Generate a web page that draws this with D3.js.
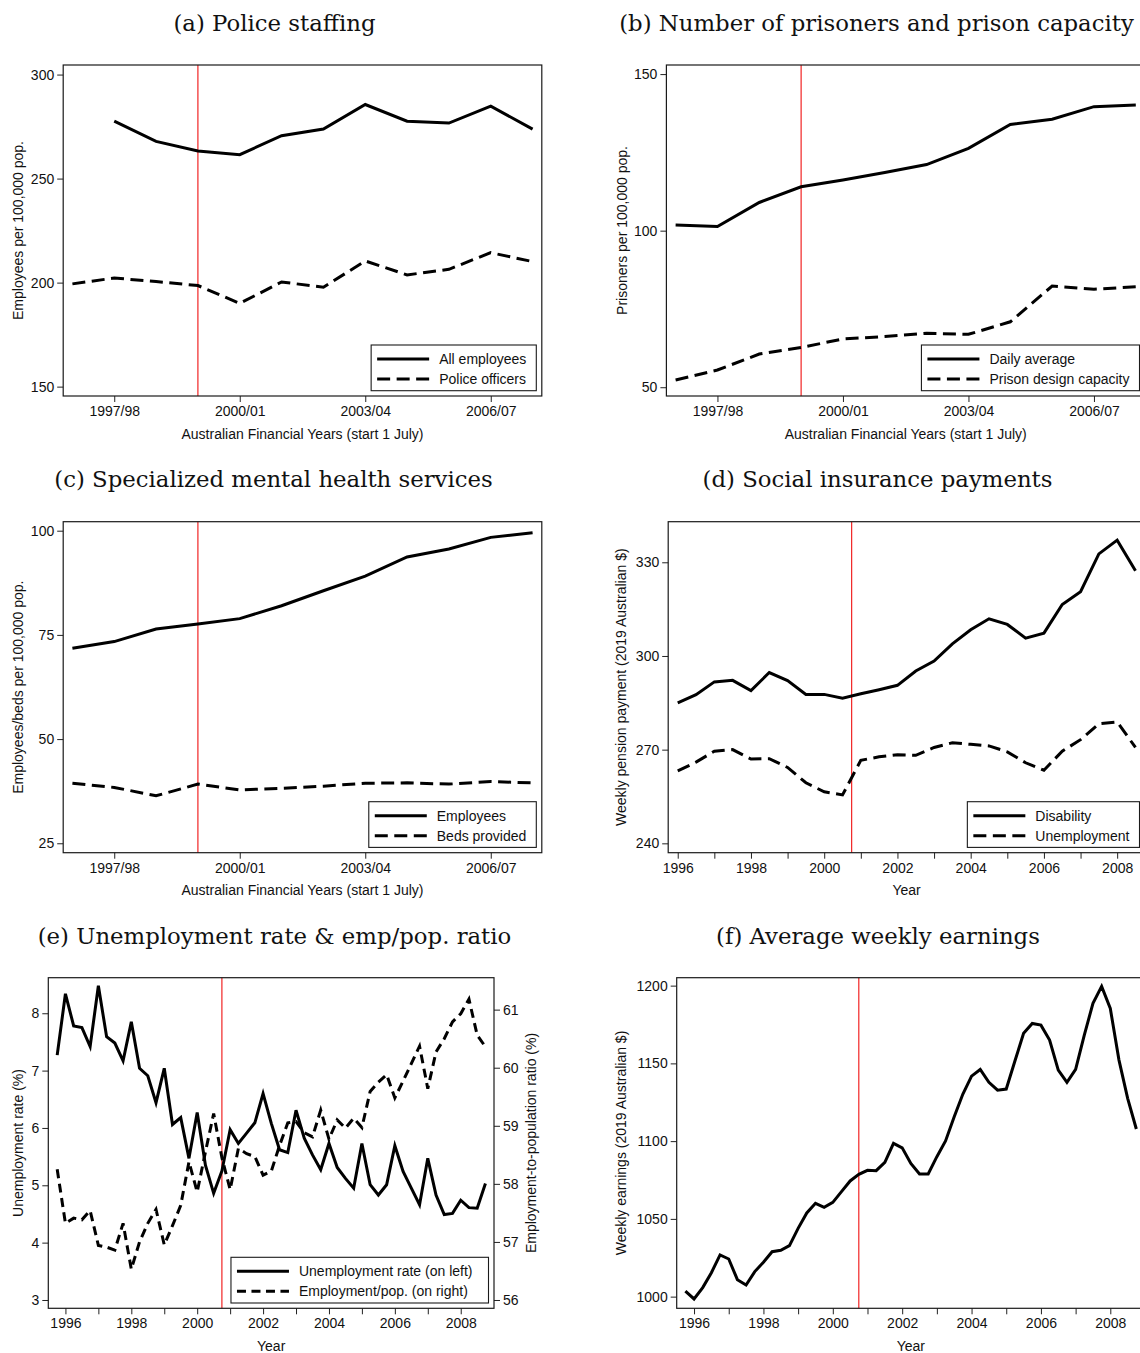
<!DOCTYPE html>
<html>
<head>
<meta charset="utf-8">
<script src="https://cdn.jsdelivr.net/npm/d3@7"></script>
<style>
  body { margin: 0; background: #fff; }
  svg { display: block; }
  .ax text { font-family: "Liberation Sans", Arial, Helvetica, sans-serif; font-size: 14px; fill: #111; }
  .ax line { stroke: #222; stroke-width: 1; }
</style>
</head>
<body>
<svg id="chart" width="1140" height="1353"></svg>
<script>
// ---------- data ----------
// Australian financial years (start 1 July)
const fyLabels = ["1996/97","1997/98","1998/99","1999/00","2000/01","2001/02",
                  "2002/03","2003/04","2004/05","2005/06","2006/07","2007/08"];
const fyTickLabels = ["1997/98","2000/01","2003/04","2006/07"];

// (a) police staffing, per 100,000 population
const policeAllEmployees = [null, 277.6, 267.9, 263.3, 261.5, 270.6, 273.8, 285.6, 277.6, 276.7, 284.8, 273.8];
const policeOfficers     = [199.4, 202.2, 200.5, 198.6, 190.0, 200.3, 197.8, 210.4, 203.7, 206.4, 214.4, 210.1];

// (b) prisoners and prison capacity, per 100,000 population
const prisonDailyAverage = [101.8, 101.3, 109.0, 114.0, 116.2, 118.6, 121.1, 126.3, 133.9, 135.6, 139.6, 140.1];
const prisonCapacity     = [52.3, 55.5, 60.6, 62.7, 65.4, 66.2, 67.2, 66.9, 70.9, 82.3, 81.3, 82.1];

// (c) specialized mental health services, per 100,000 population
const mhEmployees = [71.8, 73.4, 76.4, 77.6, 78.9, 82.0, 85.6, 89.1, 93.7, 95.6, 98.4, 99.5];
const mhBeds      = [39.4, 38.4, 36.4, 39.2, 37.8, 38.2, 38.7, 39.4, 39.5, 39.2, 39.8, 39.5];

// (d) weekly pension payments, half-yearly, 2019 A$
const halfYears = [1996, 1996.5, 1997, 1997.5, 1998, 1998.5, 1999, 1999.5, 2000, 2000.5, 2001, 2001.5,
                   2002, 2002.5, 2003, 2003.5, 2004, 2004.5, 2005, 2005.5, 2006, 2006.5, 2007, 2007.5,
                   2008, 2008.5];
const disabilityPension = [285.0, 287.6, 291.7, 292.2, 288.9, 294.7, 292.1, 287.7, 287.7, 286.5, 287.9, 289.2,
                           290.6, 295.2, 298.4, 303.9, 308.4, 311.9, 310.1, 305.7, 307.3, 316.5, 320.6, 332.7,
                           337.1, 327.3];
const unemploymentBenefit = [263.2, 266.0, 269.5, 270.0, 267.0, 267.1, 264.3, 259.4, 256.5, 255.5, 266.6, 267.7,
                             268.4, 268.2, 270.7, 272.2, 271.7, 271.2, 269.3, 265.8, 263.4, 269.5, 273.2, 278.3,
                             278.9, 270.7];

// (e), (f) quarterly series, 1995 Q4 to 2008 Q4
const quarters = d3.range(0, 53).map(i => 1995.75 + i * 0.25);
const unemploymentRate = [7.27,
  8.34, 7.78, 7.75, 7.42,  8.48, 7.59, 7.48, 7.17,  7.85, 7.04, 6.91, 6.44,  7.04, 6.06, 6.18, 5.47,
  6.27, 5.35, 4.86, 5.25,  5.97, 5.73, 5.91, 6.09,  6.60, 6.08, 5.62, 5.57,  6.31, 5.82, 5.53, 5.27,
  5.73, 5.31, 5.12, 4.95,  5.73, 5.01, 4.83, 5.01,  5.69, 5.24, 4.95, 4.66,  5.47, 4.83, 4.49, 4.51,
  4.74, 4.61, 4.60, 5.03];
const employmentRatio = [58.25,
  57.32, 57.41, 57.38, 57.54,  56.94, 56.91, 56.86, 57.32,  56.53, 57.00, 57.32, 57.56,  56.95, 57.28, 57.63, 58.38,
  57.86, 58.55, 59.21, 58.45,  57.90, 58.61, 58.52, 58.47,  58.15, 58.22, 58.66, 59.05,  59.07, 58.88, 58.81, 59.27,
  58.77, 59.10, 58.96, 59.13,  58.97, 59.59, 59.75, 59.88,  59.48, 59.77, 60.07, 60.37,  59.64, 60.27, 60.50, 60.79,
  60.93, 61.18, 60.56, 60.36];
const weeklyEarnings = [1003.6,
  998.5, 1005.8, 1015.4, 1026.8,  1024.2, 1010.9, 1007.5, 1016.1,  1022.1, 1028.9, 1029.8, 1032.8,
  1043.9, 1053.8, 1060.0, 1057.4,  1060.6, 1067.5, 1074.4, 1078.6,  1081.2, 1081.0, 1086.4, 1098.6,
  1095.7, 1085.7, 1078.9, 1078.9,  1090.0, 1100.1, 1115.7, 1130.3,  1141.8, 1146.1, 1137.8, 1132.8,
  1133.5, 1151.5, 1169.3, 1175.7,  1174.6, 1165.0, 1145.7, 1137.8,  1146.1, 1168.2, 1188.6, 1199.5,
  1185.3, 1152.1, 1127.5, 1107.8];

const yearTicks = d3.range(1996, 2009);
const evenYearLabel = v => (v % 2 === 0 ? String(v) : "");
const plainNumber = d3.format("d");

// ---------- drawing ----------
const svg = d3.select("#chart");
const SANS = '"Liberation Sans", Arial, Helvetica, sans-serif';
const SERIF = '"DejaVu Serif", "Liberation Serif", serif';
const TITLE_SIZE = 22.8;
const LONG_DASH = "13,6.5";
const SHORT_DASH = "9,5.5";

function styleAxis(sel) {
  sel.select(".domain").remove();
}

function drawPanel(p) {
  const g = svg.append("g");
  const x = d3.scaleLinear().domain(p.xDomain).range([p.left, p.right]);
  const y = d3.scaleLinear().domain(p.yDomain).range([p.bottom, p.top]);
  const y2 = p.y2Domain ? d3.scaleLinear().domain(p.y2Domain).range([p.bottom, p.top]) : null;

  g.append("text")
    .attr("x", p.titleX).attr("y", p.titleY)
    .attr("text-anchor", "middle")
    .attr("font-family", SERIF).attr("font-size", TITLE_SIZE).attr("fill", "#111")
    .text(p.title);

  g.append("g").attr("class", "ax")
    .attr("transform", `translate(${p.left},0)`)
    .call(d3.axisLeft(y).tickValues(p.yTicks).tickSize(6).tickPadding(3).tickFormat(plainNumber))
    .call(styleAxis);

  if (y2) {
    g.append("g").attr("class", "ax")
      .attr("transform", `translate(${p.right},0)`)
      .call(d3.axisRight(y2).tickValues(p.y2Ticks).tickSize(6).tickPadding(3).tickFormat(plainNumber))
      .call(styleAxis);
  }

  g.append("g").attr("class", "ax")
    .attr("transform", `translate(0,${p.bottom})`)
    .call(d3.axisBottom(x).tickValues(p.xTicks).tickSize(6).tickPadding(4).tickFormat(p.xFormat))
    .call(styleAxis);

  // reference line at the policy date
  g.append("line")
    .attr("x1", x(p.marker)).attr("x2", x(p.marker))
    .attr("y1", p.top).attr("y2", p.bottom)
    .attr("stroke", "#f01010").attr("stroke-width", 1.1);

  (p.series || []).forEach(s => {
    const ys = s.right ? y2 : y;
    const pts = s.x.map((xv, i) => [xv, s.y[i]]);
    const line = d3.line()
      .defined(d => d[1] !== null)
      .x(d => x(d[0])).y(d => ys(d[1]));
    g.append("path")
      .attr("d", line(pts))
      .attr("fill", "none").attr("stroke", "#000")
      .attr("stroke-width", 3)
      .attr("stroke-dasharray", s.dash || null)
      .attr("stroke-linejoin", "miter");
  });

  g.append("rect")
    .attr("x", p.left).attr("y", p.top)
    .attr("width", p.right - p.left).attr("height", p.bottom - p.top)
    .attr("fill", "none").attr("stroke", "#1a1a1a").attr("stroke-width", 1.2);

  // legend, anchored to the lower right corner of the plot area
  if (p.legend !== false) {
    const lg = g.append("g");
    const texts = p.series.map(s => lg.append("text")
      .attr("font-family", SANS).attr("font-size", 14).attr("fill", "#111")
      .text(s.label));
    const maxW = d3.max(texts, t => t.node().getComputedTextLength());
    const boxW = 68 + maxW + (p.legendPad || 10);
    const boxH = 45.7;
    const bx = Math.min(p.right, 1145) - 5.5 - boxW;
    const by = p.bottom - 5.3 - boxH;
    lg.insert("rect", "text")
      .attr("x", bx).attr("y", by).attr("width", boxW).attr("height", boxH)
      .attr("fill", "#fff").attr("stroke", "#1a1a1a").attr("stroke-width", 1.1);
    p.series.forEach((s, i) => {
      const cy = by + 14 + i * 20;
      lg.append("line")
        .attr("x1", bx + 6).attr("x2", bx + 58).attr("y1", cy).attr("y2", cy)
        .attr("stroke", "#000").attr("stroke-width", 3)
        .attr("stroke-dasharray", s.dash || null);
      texts[i].attr("x", bx + 68).attr("y", cy + 5);
    });
  }

  // axis titles
  const midY = (p.top + p.bottom) / 2;
  g.append("text")
    .attr("transform", `translate(${p.yLabelX},${midY}) rotate(-90)`)
    .attr("text-anchor", "middle").attr("dy", "0.35em")
    .attr("font-family", SANS).attr("font-size", 14).attr("fill", "#111")
    .text(p.yLabel);
  if (p.y2Label) {
    g.append("text")
      .attr("transform", `translate(${p.y2LabelX},${midY}) rotate(-90)`)
      .attr("text-anchor", "middle").attr("dy", "0.35em")
      .attr("font-family", SANS).attr("font-size", 14).attr("fill", "#111")
      .text(p.y2Label);
  }
  g.append("text")
    .attr("x", (p.left + p.right) / 2).attr("y", p.bottom + 42.5)
    .attr("text-anchor", "middle")
    .attr("font-family", SANS).attr("font-size", 14).attr("fill", "#111")
    .text(p.xLabel);
}

const fyIdx = fyLabels.map((d, i) => i);
const fyTickIdx = fyTickLabels.map(l => fyLabels.indexOf(l));
const fyFormat = i => fyLabels[i];
const fyDomain = [-0.22, 11.22];
const fyX = "Australian Financial Years (start 1 July)";

// (a)
drawPanel({
  title: "(a) Police staffing", titleX: 274.5, titleY: 31,
  left: 63.2, right: 541.8, top: 65, bottom: 396,
  xDomain: fyDomain, yDomain: [145.5, 304.6],
  xTicks: fyTickIdx, xFormat: fyFormat, yTicks: [150, 200, 250, 300],
  marker: 3,
  series: [
    { x: fyIdx, y: policeAllEmployees, label: "All employees" },
    { x: fyIdx, y: policeOfficers, label: "Police officers", dash: LONG_DASH }
  ],
  yLabel: "Employees per 100,000 pop.", yLabelX: 18,
  xLabel: fyX
});

// (b)
drawPanel({
  title: "(b) Number of prisoners and prison capacity", titleX: 876.5, titleY: 31,
  left: 666.4, right: 1145, top: 65, bottom: 396,
  xDomain: fyDomain, yDomain: [47.2, 152.9],
  xTicks: fyTickIdx, xFormat: fyFormat, yTicks: [50, 100, 150],
  marker: 3,
  series: [
    { x: fyIdx, y: prisonDailyAverage, label: "Daily average" },
    { x: fyIdx, y: prisonCapacity, label: "Prison design capacity", dash: LONG_DASH }
  ],
  yLabel: "Prisoners per 100,000 pop.", yLabelX: 622,
  xLabel: fyX
});

// (c)
drawPanel({
  title: "(c) Specialized mental health services", titleX: 273.5, titleY: 487,
  left: 63.2, right: 541.8, top: 521.7, bottom: 852.7,
  xDomain: fyDomain, yDomain: [22.74, 102.16],
  xTicks: fyTickIdx, xFormat: fyFormat, yTicks: [25, 50, 75, 100],
  marker: 3,
  series: [
    { x: fyIdx, y: mhEmployees, label: "Employees" },
    { x: fyIdx, y: mhBeds, label: "Beds provided", dash: LONG_DASH }
  ],
  yLabel: "Employees/beds per 100,000 pop.", yLabelX: 18,
  xLabel: fyX
});

// (d)
drawPanel({
  title: "(d) Social insurance payments", titleX: 877.5, titleY: 487,
  left: 668.2, right: 1145, top: 521.7, bottom: 852.7,
  xDomain: [1995.74, 2008.76], yDomain: [237.0, 343.0],
  xTicks: yearTicks, xFormat: evenYearLabel, yTicks: [240, 270, 300, 330],
  marker: 2000.75,
  series: [
    { x: halfYears, y: disabilityPension, label: "Disability" },
    { x: halfYears, y: unemploymentBenefit, label: "Unemployment", dash: LONG_DASH }
  ],
  yLabel: "Weekly pension payment (2019 Australian $)", yLabelX: 621,
  xLabel: "Year"
});

// (e)
drawPanel({
  title: "(e) Unemployment rate & emp/pop. ratio", titleX: 274.5, titleY: 943.5,
  left: 48.3, right: 494, top: 977.7, bottom: 1308.3,
  xDomain: [1995.48, 2009.01], yDomain: [2.855, 8.62],
  y2Domain: [55.857, 61.55], y2Ticks: [56, 57, 58, 59, 60, 61],
  xTicks: yearTicks, xFormat: evenYearLabel, yTicks: [3, 4, 5, 6, 7, 8],
  marker: 2000.75,
  legendPad: 16,
  series: [
    { x: quarters, y: unemploymentRate, label: "Unemployment rate (on left)" },
    { x: quarters, y: employmentRatio, label: "Employment/pop. (on right)", dash: SHORT_DASH, right: true }
  ],
  yLabel: "Unemployment rate (%)", yLabelX: 18,
  y2Label: "Employment-to-population ratio (%)", y2LabelX: 531,
  xLabel: "Year"
});

// (f) single series, no legend
drawPanel({
  title: "(f) Average weekly earnings", titleX: 878, titleY: 943.5,
  left: 676.7, right: 1145, top: 977.7, bottom: 1308.3,
  xDomain: [1995.5, 2009.0], yDomain: [992.5, 1205.1],
  xTicks: yearTicks, xFormat: evenYearLabel, yTicks: [1000, 1050, 1100, 1150, 1200],
  marker: 2000.75,
  legend: false,
  series: [
    { x: quarters, y: weeklyEarnings, label: "Average weekly earnings" }
  ],
  yLabel: "Weekly earnings (2019 Australian $)", yLabelX: 621,
  xLabel: "Year"
});
</script>
</body>
</html>
